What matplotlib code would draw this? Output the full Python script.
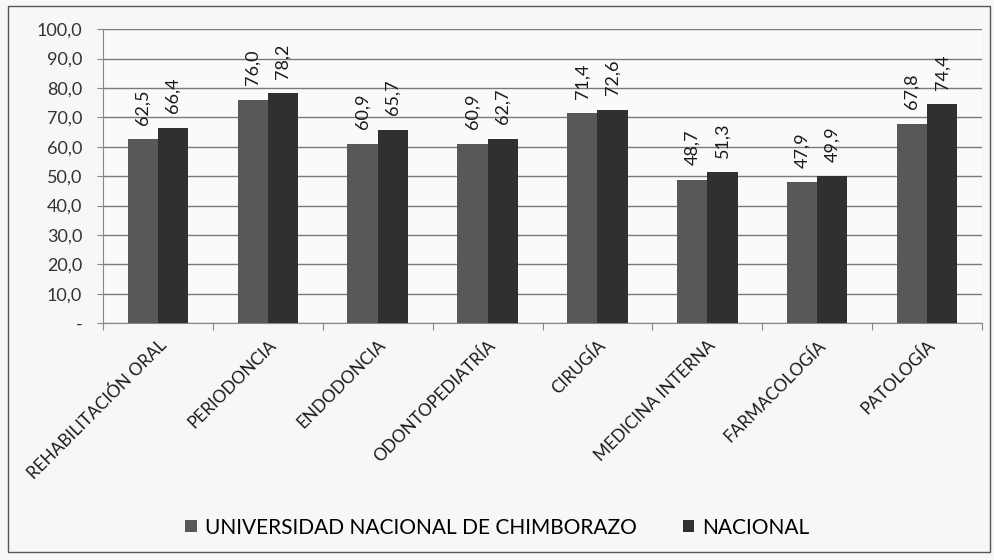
import matplotlib
import numpy as np
from matplotlib import pyplot as plt
matplotlib.use('Agg')

categorias = ['REHABILITACIÓN ORAL', 'PERIODONCIA', 'ENDODONCIA', 'ODONTOPEDIATRÍA',
              'CIRUGÍA', 'MEDICINA INTERNA', 'FARMACOLOGÍA', 'PATOLOGÍA']
unach = [62.5, 76.0, 60.9, 60.9, 71.4, 48.7, 47.9, 67.8]
nacional = [66.4, 78.2, 65.7, 62.7, 72.6, 51.3, 49.9, 74.4]
serie_nombres = ['UNIVERSIDAD NACIONAL DE CHIMBORAZO', 'NACIONAL']

plt.rcParams['font.family'] = ['Lato', 'DejaVu Sans']

fig = plt.figure(figsize=(9.95, 5.6), dpi=100, facecolor='#f7f7f5')
ax = fig.add_axes([0.1035, 0.423, 0.8835, 0.525])
ax.set_facecolor('#fafaf8')

x = np.arange(len(categorias))
w = 0.275
b1 = ax.bar(x - w / 2, unach, w, color='#585858', label=serie_nombres[0], zorder=3)
b2 = ax.bar(x + w / 2, nacional, w, color='#303030', label=serie_nombres[1], zorder=3)

fmt = lambda v: f'{v:.1f}'.replace('.', ',')
for bars, vals in ((b1, unach), (b2, nacional)):
    for r, v in zip(bars, vals):
        ax.text(r.get_x() + r.get_width() / 2, v + 5, fmt(v), rotation=90,
                ha='center', va='bottom', fontsize=13, color='#1a1a1a')

ax.set_xlim(-0.5, len(categorias) - 0.5)
ax.set_ylim(0, 100)
ax.set_yticks(np.arange(0, 101, 10))
ax.set_yticklabels(['-'] + [fmt(v) for v in np.arange(10, 101, 10)], fontsize=13, color='#333333')
ax.yaxis.grid(True, color='#7a7a7a', linewidth=1.0, zorder=0)
ax.tick_params(axis='y', length=4, color='#888888', pad=11)

ax.set_xticks(np.arange(-0.5, len(categorias), 1), minor=False)
ax.set_xticklabels([])
ax.tick_params(axis='x', length=5, color='#888888')
ax.set_xticks(x, minor=True)
ax.set_xticklabels(categorias, minor=True, rotation=45, ha='right', rotation_mode='anchor',
                   fontsize=12.3, color='#1a1a1a')
ax.tick_params(axis='x', which='minor', length=0, pad=10)

for s in ['top', 'right']:
    ax.spines[s].set_visible(False)
ax.spines['left'].set_color('#888888')
ax.spines['bottom'].set_color('#888888')

fig.legend(handles=[b1, b2], loc='center', bbox_to_anchor=(0.5, 0.058), ncol=2, frameon=False,
           fontsize=15, handlelength=0.55, handleheight=0.55, columnspacing=2.2, handletextpad=0.4)

fig.patches.append(plt.Rectangle((0.008, 0.014), 0.987, 0.976, transform=fig.transFigure,
                                 fill=False, edgecolor='#555555', linewidth=1))

plt.savefig('out.png', dpi=100, facecolor=fig.get_facecolor())
